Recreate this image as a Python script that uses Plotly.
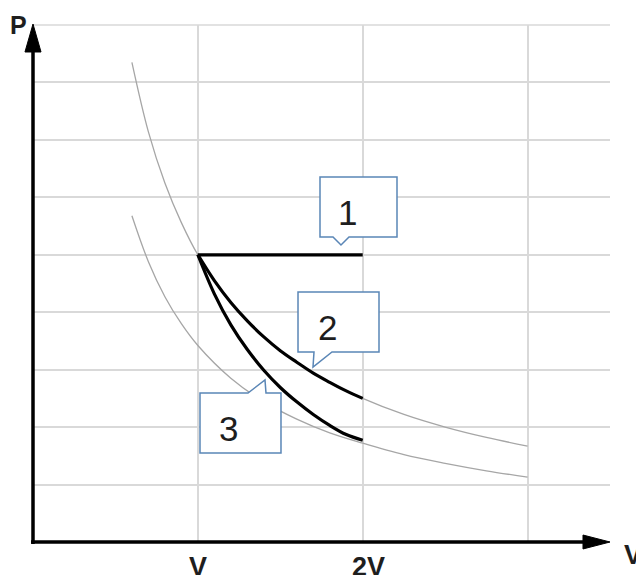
import plotly.graph_objects as go

# ---- data (V in units of V, P in grid units) ----
iso_v = [0.6, 0.7, 0.8, 0.9, 1.0, 1.2, 1.4, 1.6, 1.8, 2.0, 2.25, 2.5, 2.75, 3.0]
iso_hot_p = [8.35, 7.14, 6.25, 5.56, 5.0, 4.17, 3.57, 3.13, 2.78, 2.5, 2.22, 2.0, 1.82, 1.67]
iso_cold_p = [5.68, 4.88, 4.27, 3.80, 3.42, 2.85, 2.44, 2.14, 1.90, 1.72, 1.52, 1.37, 1.24, 1.13]

proc_v = [1.0, 1.1, 1.2, 1.3, 1.4, 1.5, 1.6, 1.7, 1.8, 1.9, 2.0]
proc1_v = [1.0, 2.0]
proc1_p = [5.0, 5.0]
proc2_p = [5.0, 4.55, 4.17, 3.85, 3.57, 3.33, 3.13, 2.94, 2.78, 2.63, 2.5]
proc3_p = [5.0, 4.32, 3.78, 3.35, 2.99, 2.69, 2.44, 2.22, 2.03, 1.87, 1.77]

x_tick_vals = [1, 2, 3]
x_tick_text = ["V", "2V", ""]
y_grid_vals = [1, 2, 3, 4, 5, 6, 7, 8, 9]
callout_labels = ["1", "2", "3"]

# ---- layout geometry (pixels) ----
W, H = 636, 575
L, R, T, B = 33, 26, 25, 33
PW, PH = W - L - R, H - T - B
XMAX, YMAX = 3.5, 9.0
GRID = "#d9d9d9"


def pxv(x):  # pixel -> data V
    return (x - L) / PW * XMAX


def pyv(y):  # pixel -> data P
    return (1 - (y - T) / PH) * YMAX


def ppx(x):  # pixel -> paper x
    return (x - L) / PW


def ppy(y):  # pixel -> paper y
    return (H - B - y) / PH


fig = go.Figure()

gray = "#a6a6a6"
fig.add_trace(go.Scatter(x=iso_v, y=iso_hot_p, mode="lines", line=dict(color=gray, width=1.3, shape="spline"),
                         hoverinfo="skip", showlegend=False))
fig.add_trace(go.Scatter(x=iso_v, y=iso_cold_p, mode="lines", line=dict(color=gray, width=1.3, shape="spline"),
                         hoverinfo="skip", showlegend=False))
fig.add_trace(go.Scatter(x=proc1_v, y=proc1_p, mode="lines", line=dict(color="black", width=3.2),
                         showlegend=False))
fig.add_trace(go.Scatter(x=proc_v, y=proc2_p, mode="lines", line=dict(color="black", width=3.2, shape="spline"),
                         showlegend=False))
fig.add_trace(go.Scatter(x=proc_v, y=proc3_p, mode="lines", line=dict(color="black", width=3.2, shape="spline"),
                         showlegend=False))

shapes = []


def dpath(points):
    return "M " + " L ".join(f"{pxv(x):.4f},{pyv(y):.4f}" for x, y in points) + " Z"


def ppath(points):
    return "M " + " L ".join(f"{ppx(x):.4f},{ppy(y):.4f}" for x, y in points) + " Z"


# top grid line (plotly omits the one lying on the range edge)
shapes.append(dict(type="line", xref="paper", yref="paper", x0=0, x1=1, y0=1, y1=1,
                   line=dict(color=GRID, width=1.5), layer="below"))

box_line = dict(color="#5a86b6", width=1.5)
# callout 1 (pointer on bottom, symmetric)
shapes.append(dict(type="path", xref="x", yref="y", layer="above", fillcolor="white", line=box_line,
                   path=dpath([(320, 177), (397, 177), (397, 237), (349, 237), (341, 245), (333, 237), (320, 237)])))
# callout 2 (pointer on bottom)
shapes.append(dict(type="path", xref="x", yref="y", layer="above", fillcolor="white", line=box_line,
                   path=dpath([(298, 292), (379, 292), (379, 352), (332, 352), (313, 367), (314, 352), (298, 352)])))
# callout 3 (pointer on top)
shapes.append(dict(type="path", xref="x", yref="y", layer="above", fillcolor="white", line=box_line,
                   path=dpath([(200, 393), (248, 393), (265, 380), (266, 393), (281, 393), (281, 453), (200, 453)])))

# axes with arrows
shapes.append(dict(type="line", xref="paper", yref="paper", x0=ppx(33), x1=ppx(33), y0=ppy(544), y1=ppy(45),
                   line=dict(color="black", width=3.5), layer="above"))
shapes.append(dict(type="line", xref="paper", yref="paper", x0=ppx(31), x1=ppx(590), y0=ppy(542), y1=ppy(542),
                   line=dict(color="black", width=3.5), layer="above"))
shapes.append(dict(type="path", xref="paper", yref="paper", fillcolor="black", line=dict(color="black", width=1),
                   layer="above", path=ppath([(33, 24), (41, 52), (25, 52)])))
shapes.append(dict(type="path", xref="paper", yref="paper", fillcolor="black", line=dict(color="black", width=1),
                   layer="above", path=ppath([(610, 542), (583, 535), (583, 549)])))

annotations = []
digit_font = dict(family="Liberation Sans, Arial", size=35, color="#1e1e1e")
for lab, (cx, cy) in zip(callout_labels, [(347, 212), (327, 327), (228, 428)]):
    annotations.append(dict(x=pxv(cx), y=pyv(cy), xref="x", yref="y", text=lab, showarrow=False,
                            font=digit_font, xanchor="center", yanchor="middle"))

lab_font = dict(family="Liberation Sans, Arial", size=27, color="#1e1e1e")
for v, t, dx in zip(x_tick_vals, x_tick_text, [0, 6, 0]):
    if t:
        annotations.append(dict(x=v, y=0, xref="x", yref="paper", text=f"<b>{t}</b>", showarrow=False,
                                font=lab_font, xanchor="center", yanchor="top", yshift=-8, xshift=dx))
annotations.append(dict(x=ppx(18), y=ppy(25), xref="paper", yref="paper", text="<b>P</b>", showarrow=False,
                        font=dict(family="Liberation Sans, Arial", size=25, color="#1e1e1e"),
                        xanchor="center", yanchor="middle"))
annotations.append(dict(x=ppx(622), y=ppy(555), xref="paper", yref="paper", text="<b>V</b>", showarrow=False,
                        font=lab_font, xanchor="left", yanchor="middle"))

fig.update_layout(
    width=W, height=H, autosize=False,
    margin=dict(l=L, r=R, t=T, b=B, pad=0),
    paper_bgcolor="white", plot_bgcolor="white",
    xaxis=dict(range=[0, XMAX], tickvals=x_tick_vals, showticklabels=False, showgrid=True,
               gridcolor=GRID, gridwidth=1.5, zeroline=False, showline=False, ticks="", fixedrange=True),
    yaxis=dict(range=[0, YMAX], tickvals=y_grid_vals, showticklabels=False, showgrid=True,
               gridcolor=GRID, gridwidth=1.5, zeroline=False, showline=False, ticks="", fixedrange=True),
    shapes=shapes, annotations=annotations, showlegend=False,
)

fig.write_html("out.html", config={"displayModeBar": False},
               post_script="document.body.style.margin='0px';document.body.style.overflow='hidden';")
